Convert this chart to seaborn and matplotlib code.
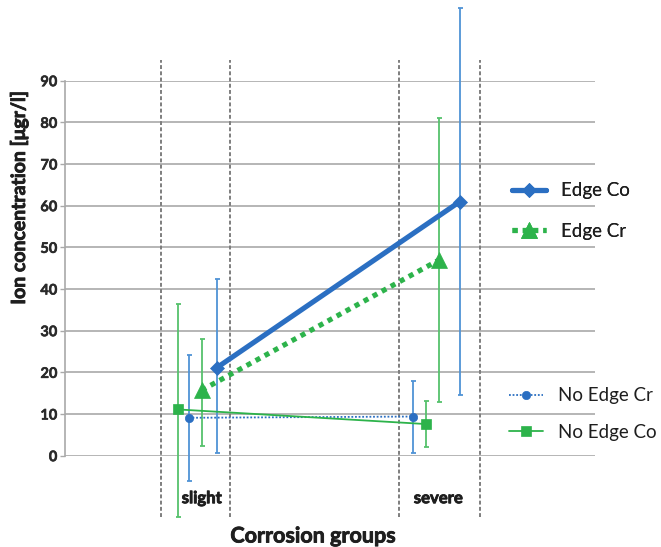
import matplotlib
matplotlib.use("Agg")
import matplotlib.pyplot as plt
import matplotlib.patheffects as pe
import seaborn as sns
import pandas as pd

# Corrosion groups and measured ion concentrations (mean, upper, lower)
groups = ["slight", "severe"]

edge_co_mean = [21.1, 61.0]
edge_co_hi = [42.5, 107.4]
edge_co_lo = [0.7, 14.6]

edge_cr_mean = [15.7, 47.0]
edge_cr_hi = [28.0, 81.0]
edge_cr_lo = [2.3, 12.8]

noedge_cr_mean = [9.1, 9.4]
noedge_cr_hi = [24.2, 17.9]
noedge_cr_lo = [-6.1, 0.7]

noedge_co_mean = [11.1, 7.6]
noedge_co_hi = [36.4, 13.2]
noedge_co_lo = [-14.6, 2.2]

y_ticks = [0, 10, 20, 30, 40, 50, 60, 70, 80, 90]

sns.set_theme(style="white")
plt.rcParams["font.family"] = ["Lato", "DejaVu Sans"]

BLUE = "#2b6fc2"
BLUE_ERR = "#4f93d6"
GREEN = "#2db34b"
GREEN_ERR = "#56c26c"
heavy = [pe.withStroke(linewidth=0.6, foreground="#1e1e1e")]

fig = plt.figure(figsize=(6.61, 5.47), dpi=100)
W, H = 661, 547
ax = fig.add_axes([65 / W, 1 - 455.7 / H, (595 - 65) / W, (455.7 - 80.7) / H])

# horizontal offsets of each series inside its group
offsets = {
    "Edge Co": [0.087, 0.086],
    "Edge Cr": [0.025, 0.001],
    "No Edge Cr": [-0.027, -0.106],
    "No Edge Co": [-0.071, -0.055],
}

series = [
    ("Edge Co", edge_co_mean, edge_co_hi, edge_co_lo, BLUE, BLUE_ERR,
     dict(marker="D", markersize=7.5, linewidth=3.7, linestyle="-")),
    ("Edge Cr", edge_cr_mean, edge_cr_hi, edge_cr_lo, GREEN, GREEN_ERR,
     dict(marker="^", markersize=11, linewidth=3.7, linestyle=(0, (1.0, 1.0)))),
    ("No Edge Cr", noedge_cr_mean, noedge_cr_hi, noedge_cr_lo, BLUE, BLUE_ERR,
     dict(marker="o", markersize=6, linewidth=1.3, linestyle=(0, (1, 1)))),
    ("No Edge Co", noedge_co_mean, noedge_co_hi, noedge_co_lo, GREEN, GREEN_ERR,
     dict(marker="s", markersize=6.5, linewidth=1.3, linestyle="-")),
]

handles = {}
for name, mean, hi, lo, col, ecol, style in series:
    xs = [i + o for i, o in enumerate(offsets[name])]
    # error bars first so markers sit on top
    yerr = [[m - l for m, l in zip(mean, lo)], [h - m for m, h in zip(mean, hi)]]
    ax.errorbar(xs, mean, yerr=yerr, fmt="none", ecolor=ecol, elinewidth=1.3,
                capsize=1.8, capthick=1.3, clip_on=False, zorder=3)
    df = pd.DataFrame({"x": xs, "y": mean})
    sns.lineplot(data=df, x="x", y="y", ax=ax, color=col, markeredgecolor=col,
                 markerfacecolor=col, markeredgewidth=0.5, clip_on=False, zorder=4,
                 sort=False, legend=False, **style)
    handles[name] = ax.lines[-1]

ax.set_xlim(-0.536, 1.641)
ax.set_ylim(0, 90)
ax.set_yticks(y_ticks)
ax.set_yticklabels([str(t) for t in y_ticks], fontsize=10.5, fontweight="bold", color="#2a2a2a")
for t in ax.get_yticklabels():
    t.set_path_effects([pe.withStroke(linewidth=0.4, foreground="#2a2a2a")])
ax.tick_params(axis="y", length=3.5, width=1.0, color="#a9a9a9", pad=2, left=True)
ax.set_xticks([])
ax.grid(axis="y", color="#a9a9a9", linewidth=1.2)
ax.set_axisbelow(True)
for s in ["top", "right", "bottom"]:
    ax.spines[s].set_visible(False)
ax.spines["left"].set_color("#a9a9a9")
ax.spines["left"].set_linewidth(1.2)
ax.set_xlabel("")
ax.set_ylabel("")

# dashed group boundaries extending beyond the plotting area
for xb in [-0.142, 0.142, 0.837, 1.167]:
    ax.plot([xb, xb], [-14.7, 95.0], color="#7e7e7e", linewidth=1.4,
            linestyle=(0, (2.0, 1.2)), clip_on=False, zorder=1)

# group labels
for i, g in enumerate(groups):
    ax.text(i + (0.025 if i == 0 else -0.003), -10.2, g, ha="center", va="center",
            fontsize=12, fontweight="bold", color="#1e1e1e", clip_on=False,
            path_effects=heavy)

fig.text(313 / W, 1 - 536 / H, "Corrosion groups", ha="center", va="center",
         fontsize=15.5, fontweight="bold", color="#1e1e1e", path_effects=heavy)
fig.text(19 / W, 1 - 197 / H, "Ion concentration [μgr/l]", ha="center", va="center",
         rotation=90, fontsize=14, fontweight="bold", color="#1e1e1e",
         path_effects=heavy)

leg_kw = dict(loc="center left", frameon=False, fontsize=13.5, handlelength=1.8,
              handletextpad=0.8, borderpad=0, borderaxespad=0, markerscale=1.0)
leg1 = fig.legend(handles=[handles["Edge Co"], handles["Edge Cr"]],
                  labels=["Edge Co", "Edge Cr"],
                  bbox_to_anchor=(512 / W, 1 - 211 / H), labelspacing=1.25, **leg_kw)
leg2 = fig.legend(handles=[handles["No Edge Cr"], handles["No Edge Co"]],
                  labels=["No Edge Cr", "No Edge Co"],
                  bbox_to_anchor=(509 / W, 1 - 414 / H), labelspacing=1.05, **leg_kw)
for leg in (leg1, leg2):
    for t in leg.get_texts():
        t.set_color("#1e1e1e")
fig.add_artist(leg1)

fig.savefig("out.png", dpi=100)
